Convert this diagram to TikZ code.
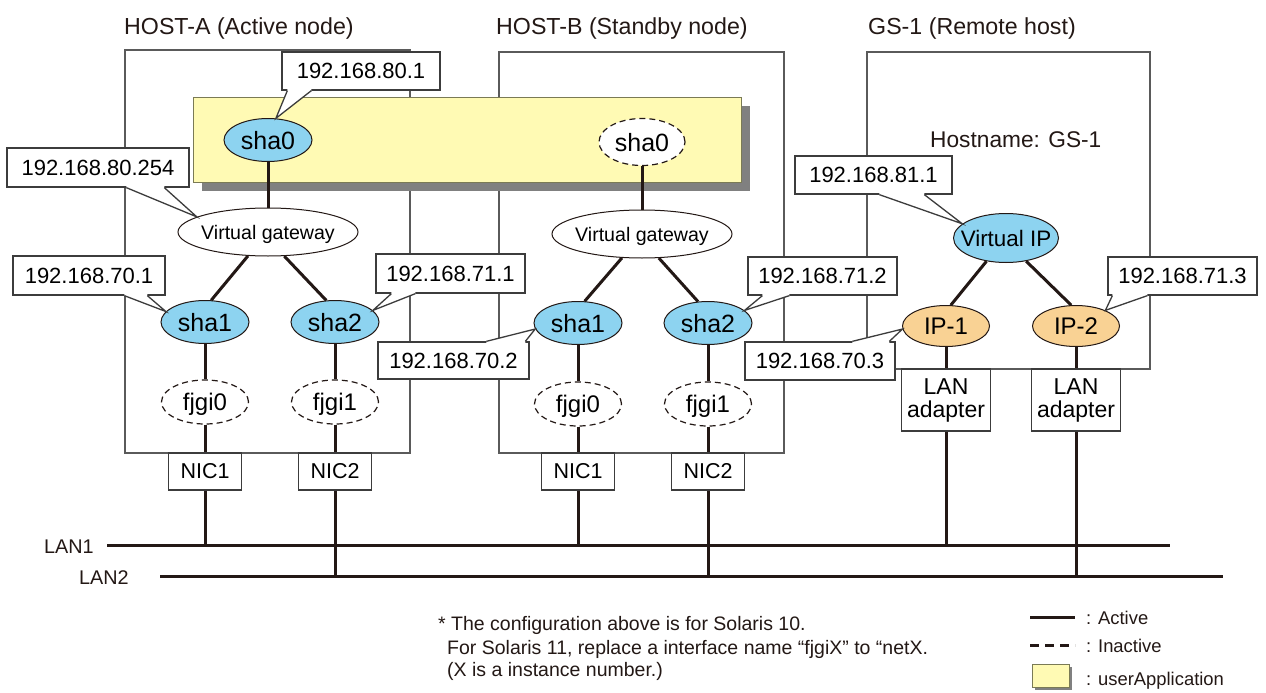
\documentclass[tikz,border=0pt]{standalone}
\usepackage{fontspec}
\setmainfont{Liberation Sans}
\usetikzlibrary{shapes.geometric,calc}
\definecolor{ln}{HTML}{231815}
\definecolor{boxln}{HTML}{5A5A5A}
\definecolor{callln}{HTML}{3C3C3C}
\definecolor{shablue}{HTML}{8DD3F0}
\definecolor{iporange}{HTML}{F9D294}
\definecolor{uayellow}{HTML}{FFFAB4}
\definecolor{uaborder}{HTML}{7A7A55}
\definecolor{shadowgray}{HTML}{808080}
\newcommand{\ztext}[1]{\raisebox{-0.36em}[0pt][0pt]{\makebox[0pt]{#1}}}
\newcommand{\callptr}[6]{%
  \fill[white] ($(#1.#2 west)+(#3,#6)$) -- ($(#1.#2 west)+(#3,0)$) -- (#5) -- ($(#1.#2 west)+(#4,0)$) -- ($(#1.#2 west)+(#4,#6)$) -- cycle;
  \draw[callout] ($(#1.#2 west)+(#3,0)$) -- (#5) -- ($(#1.#2 west)+(#4,0)$);
}
\begin{document}
\begin{tikzpicture}[x=1pt,y=-1pt,
  hostbox/.style={draw=boxln,line width=1.3pt},
  conn/.style={draw=ln,line width=3pt},
  callout/.style={draw=callln,line width=1.3pt},
  callbox/.style={rectangle,draw=callln,line width=1.3pt,fill=white,inner sep=0pt,font=\fontsize{22}{26}\selectfont},
  ellbase/.style={ellipse,inner sep=0pt,draw=ln,line width=1pt},
  shanode/.style={ellbase,fill=shablue,minimum width=88pt,minimum height=43pt,font=\fontsize{25}{28}\selectfont},
  shaoff/.style={ellbase,fill=white,dash pattern=on 6pt off 4pt,line width=1.2pt,minimum width=86pt,minimum height=47pt,font=\fontsize{25}{28}\selectfont},
  fjginode/.style={ellbase,fill=white,dash pattern=on 6pt off 4pt,line width=1.2pt,minimum width=87pt,minimum height=44pt,font=\fontsize{24}{28}\selectfont},
  vgnode/.style={ellbase,fill=white,minimum width=180pt,minimum height=48pt,font=\fontsize{19.6}{24}\selectfont},
  vipnode/.style={ellbase,fill=shablue,minimum width=105pt,minimum height=49pt,font=\fontsize{22.4}{26}\selectfont},
  ipnode/.style={ellbase,fill=iporange,minimum width=87pt,minimum height=41pt,font=\fontsize{24}{28}\selectfont},
  nicnode/.style={rectangle,draw=callln,line width=1.3pt,fill=white,inner sep=0pt,minimum width=73pt,minimum height=37pt,font=\fontsize{21.5}{26}\selectfont},
  lanadnode/.style={rectangle,draw=callln,line width=1.3pt,fill=white,inner sep=0pt,minimum width=89pt,minimum height=62pt,align=center,font=\fontsize{23}{23}\selectfont},
  titletext/.style={anchor=base west,inner sep=0pt,font=\fontsize{23.2}{28}\selectfont,text=ln},
  lantext/.style={anchor=base west,inner sep=0pt,font=\fontsize{19.8}{24}\selectfont,text=ln},
  notetext/.style={anchor=base west,inner sep=0pt,font=\fontsize{19.5}{24}\selectfont,text=ln},
  legtext/.style={anchor=base west,inner sep=0pt,font=\fontsize{18.4}{22}\selectfont,text=ln}
]
\useasboundingbox (0,0) rectangle (1266,693);
\fill[white] (0,0) rectangle (1266,693);

% titles
\node[titletext] (tA) at (124,35) {HOST-A (Active node)};
\node[titletext] (tB) at (496,35) {HOST-B (Standby node)};
\node[titletext] (tG) at (868,35) {GS-1 (Remote host)};

% host boxes
\draw[hostbox] (125,50) rectangle (410,453);
\draw[hostbox] (499,52) rectangle (784,453);
\draw[hostbox] (867,52) rectangle (1150,369);

% userApplication box
\fill[shadowgray] (202,106) rectangle (750,191);
\draw[draw=uaborder,line width=1pt,fill=uayellow] (193,97) rectangle (741,182);

\node[anchor=base west,inner sep=0pt,font=\fontsize{22.7}{26}\selectfont,text=ln] (hn) at (930,147) {Hostname: GS-1};

% LAN lines
\coordinate (lan1w) at (107,545);
\coordinate (lan1e) at (1170,545);
\coordinate (lan2w) at (160,576);
\coordinate (lan2e) at (1223,576);
\draw[conn] (lan1w) -- (lan1e);
\draw[conn] (lan2w) -- (lan2e);
\node[lantext] (lan1t) at (44,553) {LAN1};
\node[lantext] (lan2t) at (79,584) {LAN2};

% nodes HOST-A
\node[shanode] (sha0A) at (268,140) {\ztext{sha0}};
\node[vgnode] (vgA) at (268,232) {\ztext{Virtual gateway}};
\node[shanode] (sha1A) at (205,322) {\ztext{sha1}};
\node[shanode] (sha2A) at (335,322) {\ztext{sha2}};
\node[fjginode] (fjgi0A) at (205,402) {\ztext{fjgi0}};
\node[fjginode] (fjgi1A) at (335,402) {\ztext{fjgi1}};
\node[nicnode] (nic1A) at (205,471.5) {NIC1};
\node[nicnode] (nic2A) at (335,471.5) {NIC2};

% nodes HOST-B
\node[shaoff] (sha0B) at (642,142) {\ztext{sha0}};
\node[vgnode] (vgB) at (642,234) {\ztext{Virtual gateway}};
\node[shanode] (sha1B) at (578,323) {\ztext{sha1}};
\node[shanode] (sha2B) at (708,323) {\ztext{sha2}};
\node[fjginode] (fjgi0B) at (578,404) {\ztext{fjgi0}};
\node[fjginode] (fjgi1B) at (708,404) {\ztext{fjgi1}};
\node[nicnode] (nic1B) at (578,471.5) {NIC1};
\node[nicnode] (nic2B) at (708,471.5) {NIC2};

% nodes GS-1
\node[vipnode] (vip) at (1006,238) {\ztext{Virtual IP}};
\node[ipnode] (ip1) at (946,326) {\ztext{IP-1}};
\node[ipnode] (ip2) at (1076,326) {\ztext{IP-2}};
\node[lanadnode] (lanad1) at (946,400) {LAN\\adapter};
\node[lanadnode] (lanad2) at (1076,400) {LAN\\adapter};

% connectors
\draw[conn] (sha0A) -- (vgA);
\draw[conn] (vgA.230) -- (sha1A.74);
\draw[conn] (vgA.304) -- (sha2A.112);
\draw[conn] (sha1A) -- (fjgi0A);
\draw[conn] (fjgi0A) -- (nic1A);
\draw[conn] (nic1A) -- (nic1A |- lan1w);
\draw[conn] (sha2A) -- (fjgi1A);
\draw[conn] (fjgi1A) -- (nic2A);
\draw[conn] (nic2A) -- (nic2A |- lan2w);

\draw[conn] (sha0B) -- (vgB);
\draw[conn] (vgB.230) -- (sha1B.73);
\draw[conn] (vgB.305) -- (sha2B.115);
\draw[conn] (sha1B) -- (fjgi0B);
\draw[conn] (fjgi0B) -- (nic1B);
\draw[conn] (nic1B) -- (nic1B |- lan1w);
\draw[conn] (sha2B) -- (fjgi1B);
\draw[conn] (fjgi1B) -- (nic2B);
\draw[conn] (nic2B) -- (nic2B |- lan2w);

\draw[conn] (vip.230) -- (ip1.77);
\draw[conn] (vip.311) -- (ip2.103);
\draw[conn] (ip1) -- (lanad1);
\draw[conn] (lanad1) -- (lanad1 |- lan1w);
\draw[conn] (ip2) -- (lanad2);
\draw[conn] (lanad2) -- (lanad2 |- lan2w);

% callouts
\node[callbox,minimum width=158pt,minimum height=38pt] (c801) at (361,71) {192.168.80.1};
\callptr{c801}{south}{6}{30}{sha0A.70}{-2}
\node[callbox,minimum width=182pt,minimum height=39pt] (c80254) at (98,167.5) {192.168.80.254};
\callptr{c80254}{south}{120}{158}{vgA.168}{-2}
\node[callbox,minimum width=152pt,minimum height=39pt] (c701) at (89,275.5) {192.168.70.1};
\callptr{c701}{south}{112}{135}{sha1A.165}{-2}
\node[callbox,minimum width=149pt,minimum height=39pt] (c711) at (450.5,273.5) {192.168.71.1};
\callptr{c711}{south}{16}{40}{sha2A.17}{-2}
\node[callbox,minimum width=151pt,minimum height=37pt] (c702) at (453.5,360.5) {192.168.70.2};
\callptr{c702}{north}{109}{148}{sha1B.188}{2}
\node[callbox,minimum width=149pt,minimum height=38pt] (c712) at (822.5,276) {192.168.71.2};
\callptr{c712}{south}{15}{42}{sha2B.19}{-2}
\node[callbox,minimum width=157pt,minimum height=38pt] (c811) at (873.5,175) {192.168.81.1};
\callptr{c811}{south}{85}{130}{vip.162}{-2}
\node[callbox,minimum width=149pt,minimum height=38pt] (c713) at (1182.5,276) {192.168.71.3};
\callptr{c713}{south}{5}{40}{ip2.28}{-2}
\node[callbox,minimum width=150pt,minimum height=38pt] (c703) at (820,361) {192.168.70.3};
\callptr{c703}{north}{108}{145}{ip1.184}{2}

% footnote
\node[notetext] (n1) at (438,630) {* The configuration above is for Solaris 10.};
\node[notetext] (n2) at (447,654) {For Solaris 11, replace a interface name ``fjgiX'' to ``netX.};
\node[notetext] (n3) at (447,676) {(X is a instance number.)};

% legend
\coordinate (lg1a) at (1030,617);
\coordinate (lg1b) at (1075,617);
\draw[conn] (lg1a) -- (lg1b);
\node[legtext] (lgt1) at (1086,624) {: Active};
\coordinate (lg2a) at (1030,645);
\coordinate (lg2b) at (1075,645);
\draw[draw=ln,line width=3pt,dash pattern=on 9pt off 6pt] (lg2a) -- (lg2b);
\node[legtext] (lgt2) at (1086,652) {: Inactive};
\fill[shadowgray] (1035,667) rectangle (1072,690);
\draw[draw=uaborder,line width=1pt,fill=uayellow] (1032,664) rectangle (1069,687);
\node[legtext] (lgt3) at (1086,685) {: userApplication};
\end{tikzpicture}
\end{document}
